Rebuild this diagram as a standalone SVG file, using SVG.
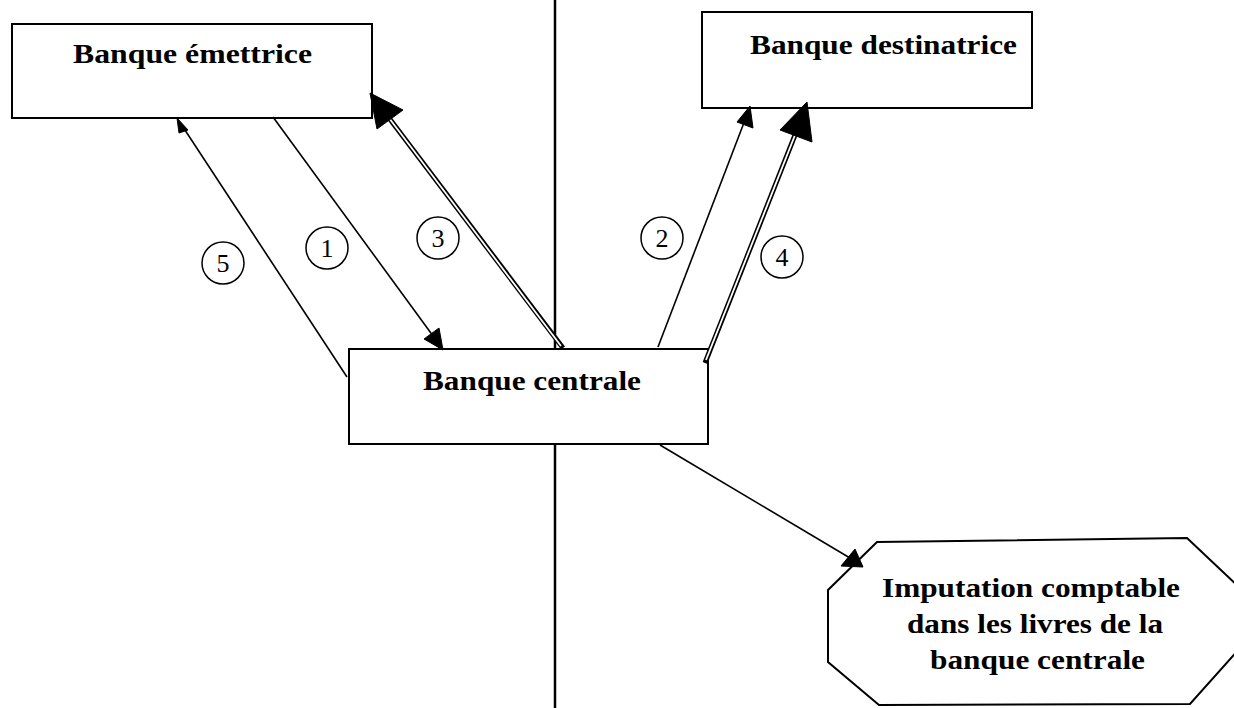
<svg xmlns="http://www.w3.org/2000/svg" width="1234" height="708" viewBox="0 0 1234 708">
<style>
.box{fill:#fff;stroke:#000;stroke-width:2}
.lbl{font-family:"Liberation Serif","Times New Roman",serif;font-weight:bold;font-size:28px;fill:#000}
.num{font-family:"Liberation Serif","Times New Roman",serif;font-size:26px;fill:#000;text-anchor:middle}
.circ{fill:none;stroke:#000;stroke-width:1.5}
.ln{fill:none;stroke:#000;stroke-width:1.6}
.dbl{fill:none;stroke:#000;stroke-width:5}
.dbli{fill:none;stroke:#fff;stroke-width:1.8}
.head{fill:#000;stroke:#000;stroke-width:1}
</style>
<rect width="1234" height="708" fill="#fff"/>
<line x1="555" y1="0" x2="555" y2="708" stroke="#000" stroke-width="2.5"/>
<g id="banque-emettrice">
<rect class="box" x="12" y="24" width="360" height="94"/>
<text class="lbl" x="73" y="63" textLength="239" lengthAdjust="spacingAndGlyphs">Banque émettrice</text>
</g>
<g id="banque-destinatrice">
<rect class="box" x="702" y="12" width="330" height="96"/>
<text class="lbl" x="750" y="54" textLength="267" lengthAdjust="spacingAndGlyphs">Banque destinatrice</text>
</g>
<g id="banque-centrale">
<rect class="box" x="349" y="349" width="359" height="95"/>
<text class="lbl" x="423" y="390" textLength="218" lengthAdjust="spacingAndGlyphs">Banque centrale</text>
</g>
<g id="imputation">
<polygon class="box" points="877,542 1187,538 1240,588 1240,648 1190,704 879,705 828,662 828,590"/>
<text class="lbl" x="882" y="597" textLength="298" lengthAdjust="spacingAndGlyphs">Imputation comptable</text>
<text class="lbl" x="907" y="633" textLength="256" lengthAdjust="spacingAndGlyphs">dans les livres de la</text>
<text class="lbl" x="930" y="669" textLength="215" lengthAdjust="spacingAndGlyphs">banque centrale</text>
</g>
<g id="connectors">
<line class="ln" x1="273" y1="117" x2="436" y2="340"/>
<polygon class="head" points="443,350 424,339 439,328"/>
<line class="ln" x1="347" y1="377" x2="181" y2="124"/>
<polygon class="head" points="177,118 188,130 179,133"/>
<path class="dbl" d="M563,348 L386,114"/>
<path class="dbli" d="M561,346 L386,114"/>
<polygon class="head" points="370,93 403,110 377,129"/>
<line class="ln" x1="658" y1="347" x2="745" y2="120"/>
<polygon class="head" points="750,106 753,128 737,122"/>
<path class="dbl" d="M705,363 L797,130"/>
<path class="dbli" d="M706,360 L797,130"/>
<polygon class="head" points="807,102 812,142 780,130"/>
<line class="ln" x1="660" y1="445" x2="850" y2="558"/>
<polygon class="head" points="855,549 863,567 841,566"/>
</g>
<g id="labels">
<circle class="circ" cx="223" cy="263" r="21"/><text class="num" x="223" y="272">5</text>
<circle class="circ" cx="327" cy="248" r="21"/><text class="num" x="327" y="257">1</text>
<circle class="circ" cx="438" cy="238" r="21"/><text class="num" x="438" y="247">3</text>
<circle class="circ" cx="662" cy="238" r="21"/><text class="num" x="662" y="247">2</text>
<circle class="circ" cx="782" cy="257" r="21"/><text class="num" x="782" y="266">4</text>
</g>
</svg>
